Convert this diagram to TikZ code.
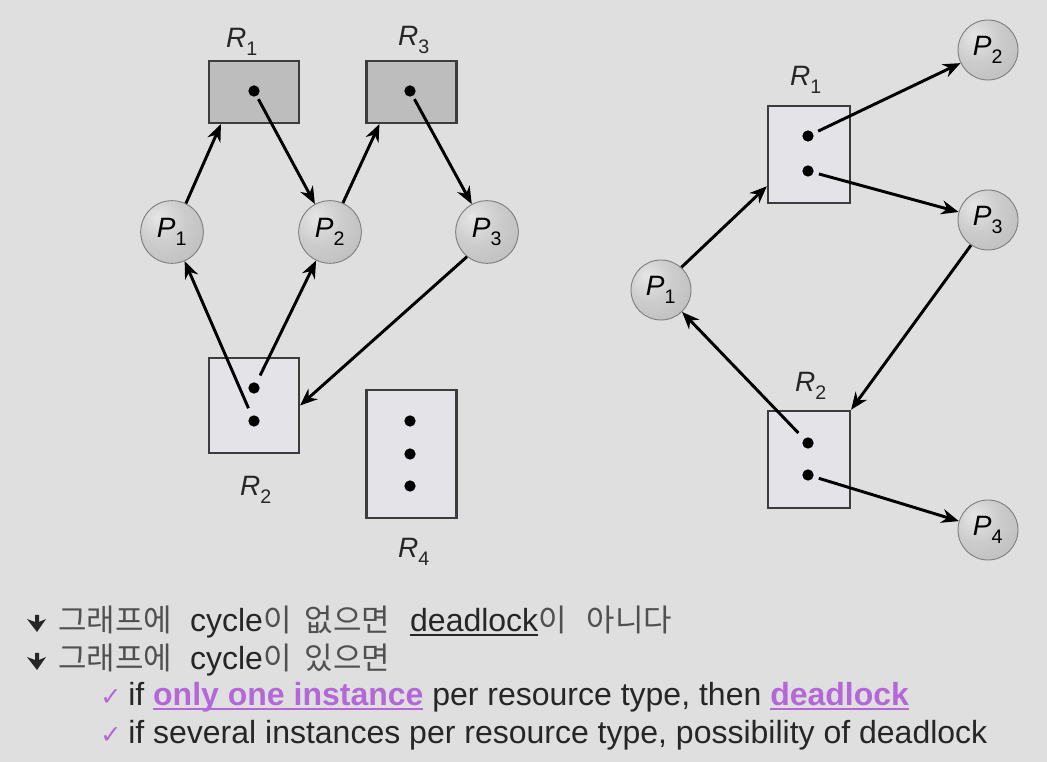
\documentclass[tikz,border=0pt]{standalone}
\usepackage{fontspec}
\setmainfont{Liberation Sans}
\newfontfamily\kr{Noto Sans CJK KR}
\newfontfamily\djv{DejaVu Sans}
\usetikzlibrary{arrows.meta,calc,shadings}
\definecolor{bg}{HTML}{DFDFDF}
\definecolor{boxlight}{HTML}{E4E4E8}
\definecolor{boxdark}{HTML}{BDBDBD}
\definecolor{edge}{HTML}{3C3C3C}
\definecolor{txt}{HTML}{262626}
\definecolor{krtxt}{HTML}{505050}
\definecolor{purp}{HTML}{B468D8}
\pgfdeclareradialshading{lightball}{\pgfpoint{-12bp}{12bp}}{%
  color(0bp)=(black!10); color(20bp)=(black!20); color(45bp)=(black!27);
  color(62bp)=(black!38); color(70bp)=(black!45); color(100bp)=(black!45)}
\tikzset{
  res/.style={draw=edge, line width=1.6pt, inner sep=0pt},
  proc/.style={circle, draw=black!50, line width=0.7pt, shading=lightball, minimum size=47pt, inner sep=0pt, font=\fontsize{21pt}{24pt}\selectfont},
  inst/.style={circle, fill=black, minimum size=8.5pt, inner sep=0pt},
  lbl/.style={font=\fontsize{21pt}{24pt}\selectfont, text=black!85, inner sep=0pt},
  edgearr/.style={line width=2.2pt, -{Stealth[length=13pt,width=10.5pt]}, shorten <=2.5pt},
  line/.style={anchor=base west, inner sep=0pt, text=txt, font=\fontsize{24pt}{30pt}\selectfont},
}
\newcommand{\pl}[1]{\textit{P}\textsubscript{\raisebox{-0.35ex}{#1}}}
\newcommand{\rl}[1]{\textit{R}\textsubscript{\raisebox{-0.35ex}{#1}}}
\newcommand{\K}[1]{{\kr\fontsize{23.2pt}{26pt}\selectfont\color{krtxt}#1}}
\newcommand{\myul}[1]{\setbox0\hbox{#1}\rlap{\rule[-0.13em]{\wd0}{0.075em}}\box0}
\begin{document}
\begin{tikzpicture}[x=0.75pt,y=-0.75pt]
\useasboundingbox[fill=bg] (0,0) rectangle (1047,762);
% ---------- left graph ----------
\node[res, fill=boxdark, minimum width=67.5pt, minimum height=46.5pt] (R1) at (254,92) {};
\node[res, fill=boxdark, minimum width=67.5pt, minimum height=46.5pt] (R3) at (411.5,92) {};
\node[res, fill=boxlight, minimum width=67.5pt, minimum height=71pt] (R2) at (254,405.5) {};
\node[res, fill=boxlight, minimum width=67.5pt, minimum height=96pt] (R4) at (411.5,454) {};
\node[inst] (r1d) at (254,91) {};
\node[inst] (r3d) at (410,91) {};
\node[inst] (r2a) at (254,388) {};
\node[inst] (r2b) at (254,421) {};
\node[inst] (r4a) at (410,421) {};
\node[inst] (r4b) at (410,454) {};
\node[inst] (r4c) at (410,486) {};
\node[lbl] (lR1) at (242,42) {\rl{1}};
\node[lbl] (lR3) at (414,40) {\rl{3}};
\node[lbl] (lR2) at (256,490) {\rl{2}};
\node[lbl] (lR4) at (414,552) {\rl{4}};
\node[proc] (P1) at (172,232) {\pl{1}};
\node[proc] (P2) at (330,232) {\pl{2}};
\node[proc] (P3) at (487,232) {\pl{3}};
\draw[edgearr, shorten <=0pt] (P1.64) -- ($(R1.south west)+(13,0)$);
\draw[edgearr] (r1d) -- (P2);
\draw[edgearr, shorten <=0pt] (P2.66) -- ($(R3.south west)+(14,0)$);
\draw[edgearr] (r3d) -- (P3);
\draw[edgearr, shorten <=0pt] (P3.231) -- (R2.east);
\draw[edgearr, shorten <=6pt] (r2b) -- (P1);
\draw[edgearr, shorten <=6pt] (r2a) -- (P2);
% ---------- right graph ----------
\node[res, fill=boxlight, minimum width=61.5pt, minimum height=73pt] (S1) at (809,154.5) {};
\node[res, fill=boxlight, minimum width=61.5pt, minimum height=73pt] (S2) at (809,459.5) {};
\node[inst] (s1a) at (808,136) {};
\node[inst] (s1b) at (808,171) {};
\node[inst] (s2a) at (808,443) {};
\node[inst] (s2b) at (808,475) {};
\node[lbl] (lS1) at (806,80) {\rl{1}};
\node[lbl] (lS2) at (811,386) {\rl{2}};
\node[proc, minimum size=45pt] (Q1) at (661,290) {\pl{1}};
\node[proc, minimum size=45pt] (Q2) at (988,50) {\pl{2}};
\node[proc, minimum size=45pt] (Q3) at (988,220) {\pl{3}};
\node[proc, minimum size=45pt] (Q4) at (988,530) {\pl{4}};
\draw[edgearr, shorten <=4pt] (s1a) -- (Q2);
\draw[edgearr, shorten <=4pt] (s1b) -- (Q3);
\draw[edgearr, shorten <=0pt] (Q1.48) -- ($(S1.south west)+(0,-18)$);
\draw[edgearr, shorten <=0pt] (Q3.236) -- (S2.north east);
\draw[edgearr, shorten <=6pt] (s2a) -- (Q1);
\draw[edgearr, shorten <=4pt] (s2b) -- (Q4);
% ---------- text ----------
\fill[txt] (27,619) -- (35,622) -- (35,615) -- (39,615) -- (39,622) -- (46,619) -- (37,632) -- cycle;
\fill[txt] (27,657) -- (35,660) -- (35,653) -- (39,653) -- (39,660) -- (46,657) -- (37,670) -- cycle;
\node[line] (t1) at (58,632) {\K{그래프에}\hspace{13.5pt}cycle\K{이}\hspace{10pt}\K{없으면}\hspace{15pt}\myul{deadlock}\K{이}\hspace{15pt}\K{아니다}};
\node[line] (t2) at (58,670) {\K{그래프에}\hspace{13.5pt}cycle\K{이}\hspace{10pt}\K{있으면}};
\node[line, text=purp] (c3) at (100,706) {\fontsize{19pt}{24pt}\djv ✓};
\node[line, text=purp] (c4) at (100,744) {\fontsize{19pt}{24pt}\djv ✓};
\node[line] (t3) at (128,706) {if {\color{purp}\bfseries\myul{only one instance}} per resource type, then {\color{purp}\bfseries\myul{deadlock}}};
\node[line] (t4) at (128,744) {if several instances per resource type, possibility of deadlock};
\end{tikzpicture}
\end{document}
